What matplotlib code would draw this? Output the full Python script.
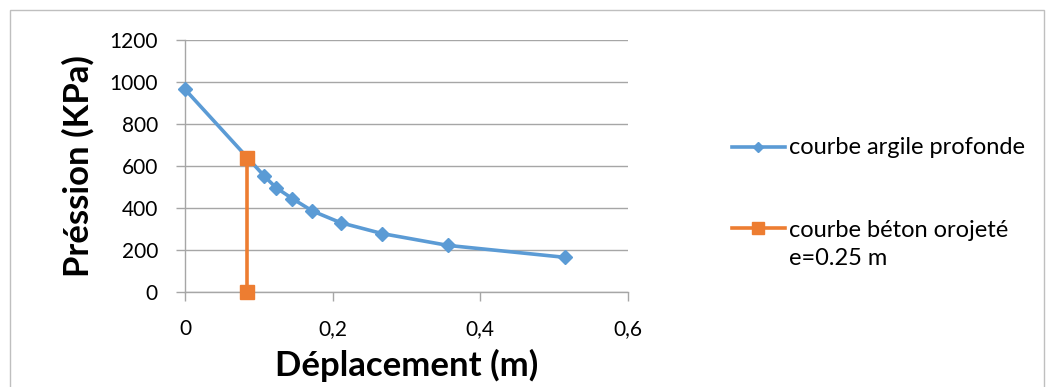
import matplotlib.pyplot as plt
from matplotlib.patches import Rectangle
from matplotlib.lines import Line2D

# courbe argile profonde
depl_argile = [0.0, 0.1074, 0.1232, 0.1453, 0.1724, 0.2108, 0.2672, 0.356, 0.5146]
pression_argile = [965, 552, 497, 445, 386, 330, 278, 222, 165]

# courbe béton projeté e=0.25 m
depl_beton = [0.0835, 0.0835]
pression_beton = [0, 640]

x_ticks = [0, 0.2, 0.4, 0.6]
x_labels = ['0', '0,2', '0,4', '0,6']
y_ticks = [0, 200, 400, 600, 800, 1000, 1200]
noms = ['courbe argile profonde', 'courbe béton orojeté', 'e=0.25 m']

bleu = '#5B9BD5'
orange = '#ED7D31'
gris = '#A6A6A6'
police = ['Lato', 'DejaVu Sans']

W, H = 1054, 387
fig = plt.figure(figsize=(W / 100, H / 100), dpi=100)
plt.rcParams['font.family'] = police


def fx(px):
    return px / W


def fy(py):
    return 1 - py / H


# cadre du graphique
fig.patches.append(Rectangle((fx(10), -0.1), fx(1044 - 10), fy(10) + 0.1,
                             transform=fig.transFigure, fill=False,
                             edgecolor='#BFBFBF', lw=1))

ax = fig.add_axes([fx(185), fy(292), fx(628 - 185), (292 - 40) / H])
ax.plot(depl_argile, pression_argile, color=bleu, lw=2.6, marker='D', ms=7,
        zorder=3, clip_on=False)
ax.plot(depl_beton, pression_beton, color=orange, lw=2.6, marker='s', ms=10,
        zorder=4, clip_on=False)

ax.set_xlim(0, 0.6)
ax.set_ylim(0, 1200)
ax.set_xticks(x_ticks)
ax.set_xticklabels(x_labels)
ax.set_yticks(y_ticks)
ax.grid(axis='y', color=gris, lw=1)
ax.set_axisbelow(True)
for s in ['top', 'right']:
    ax.spines[s].set_visible(False)
for s in ['left', 'bottom']:
    ax.spines[s].set_color(gris)
    ax.spines[s].set_linewidth(1)
ax.tick_params(colors=gris, labelcolor='black', labelsize=15, length=6.5, width=1,
               direction='out')
ax.tick_params(axis='y', pad=13)
ax.tick_params(axis='x', pad=13)

ax.set_ylabel('Préssion (KPa)', fontsize=25, fontweight='bold', labelpad=11)
ax.set_xlabel('Déplacement (m)', fontsize=25, fontweight='bold', labelpad=7)

# légende
fig.add_artist(Line2D([fx(732), fx(785)], [fy(146.5), fy(146.5)], color=bleu, lw=2.6))
fig.add_artist(Line2D([fx(758)], [fy(146.5)], color=bleu, marker='D', ms=5.5))
fig.add_artist(Line2D([fx(732), fx(785)], [fy(227.5), fy(227.5)], color=orange, lw=2.6))
fig.add_artist(Line2D([fx(758)], [fy(227.5)], color=orange, marker='s', ms=8))
fig.text(fx(789), fy(153.5), noms[0], fontsize=17, va='baseline', ha='left')
fig.text(fx(789), fy(236.5), noms[1], fontsize=17, va='baseline', ha='left')
fig.text(fx(789), fy(265), noms[2], fontsize=17, va='baseline', ha='left')

fig.savefig('out.png', dpi=100)
